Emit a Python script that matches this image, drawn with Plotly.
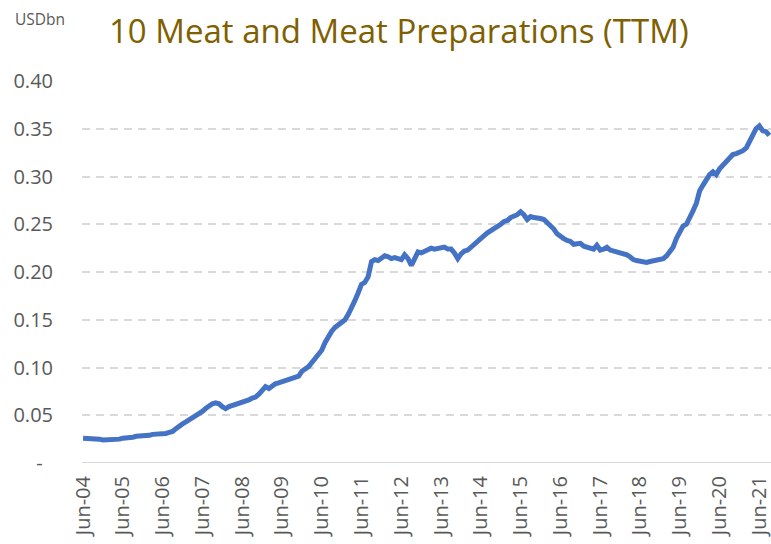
import pandas as pd
import plotly.graph_objects as go

# Monthly TTM values, USD bn, Jun-04 .. Sep-21
start_month = "2004-06-01"
values = [
    0.026, 0.026, 0.026, 0.025, 0.025, 0.025, 0.024, 0.024, 0.024, 0.024, 0.025, 0.025,
    0.026, 0.026, 0.027, 0.027, 0.028, 0.028, 0.028, 0.029, 0.029, 0.030, 0.030, 0.030,
    0.031, 0.031, 0.032, 0.033, 0.036, 0.039, 0.041, 0.043, 0.045, 0.047, 0.049, 0.051,
    0.054, 0.057, 0.060, 0.062, 0.063, 0.062, 0.059, 0.057, 0.059, 0.060, 0.062, 0.063,
    0.064, 0.065, 0.066, 0.068, 0.069, 0.072, 0.076, 0.080, 0.078, 0.081, 0.083, 0.084,
    0.085, 0.086, 0.087, 0.088, 0.089, 0.091, 0.096, 0.098, 0.101, 0.105, 0.109, 0.113,
    0.118, 0.126, 0.133, 0.138, 0.142, 0.145, 0.147, 0.150, 0.156, 0.162, 0.170, 0.178,
    0.187, 0.189, 0.195, 0.211, 0.213, 0.212, 0.214, 0.217, 0.216, 0.214, 0.215, 0.214,
    0.213, 0.218, 0.214, 0.207, 0.214, 0.221, 0.220, 0.222, 0.224, 0.225, 0.224, 0.225,
    0.225, 0.226, 0.224, 0.224, 0.220, 0.214, 0.219, 0.222, 0.223, 0.226, 0.230, 0.232,
    0.235, 0.238, 0.241, 0.243, 0.245, 0.247, 0.250, 0.253, 0.254, 0.257, 0.258, 0.260,
    0.263, 0.260, 0.255, 0.258, 0.257, 0.257, 0.256, 0.255, 0.252, 0.249, 0.245, 0.240,
    0.237, 0.235, 0.233, 0.232, 0.229, 0.229, 0.230, 0.227, 0.226, 0.224, 0.224, 0.228,
    0.223, 0.224, 0.226, 0.223, 0.222, 0.222, 0.221, 0.220, 0.218, 0.216, 0.213, 0.212,
    0.211, 0.210, 0.210, 0.211, 0.212, 0.212, 0.213, 0.214, 0.217, 0.221, 0.226, 0.235,
    0.241, 0.248, 0.250, 0.256, 0.264, 0.272, 0.285, 0.291, 0.298, 0.302, 0.305, 0.302,
    0.308, 0.312, 0.315, 0.321, 0.323, 0.324, 0.325, 0.327, 0.330, 0.336, 0.343, 0.350,
    0.353, 0.348, 0.347, 0.343,
]
dates = pd.date_range(start_month, periods=len(values), freq="MS")

tick_years = list(range(2004, 2022))
tick_dates = [f"{y}-06-01" for y in tick_years]
tick_labels = [f"Jun-{y % 100:02d}" for y in tick_years]

y_tickvals = [0, 0.05, 0.10, 0.15, 0.20, 0.25, 0.30, 0.35, 0.40]
y_ticktext = ["-\u00a0\u00a0", "0.05", "0.10", "0.15", "0.20", "0.25", "0.30", "0.35", "0.40"]

title_text = "10 Meat and Meat Preparations (TTM)"
unit_text = "USDbn"

fig = go.Figure()
fig.add_trace(go.Scatter(
    x=dates, y=values, mode="lines",
    line=dict(color="#4472C4", width=5),
    hoverinfo="x+y", showlegend=False, cliponaxis=True,
))

FONT = "Open Sans"
fig.update_layout(
    width=771, height=544,
    margin=dict(l=82, r=0, t=81, b=81, autoexpand=False),
    paper_bgcolor="white", plot_bgcolor="white",
    font=dict(family=FONT, color="#595959"),
    xaxis=dict(
        range=["2004-05-22", "2021-09-16"], automargin=False,
        tickvals=tick_dates, ticktext=tick_labels,
        tickangle=-90, tickfont=dict(size=20, color="#595959"),
        showgrid=False, showline=False, zeroline=False,
        ticks="", ticklabelstandoff=8, ticklabeloverflow="allow",
    ),
    yaxis=dict(
        range=[0, 0.40], automargin=False,
        tickvals=y_tickvals, ticktext=y_ticktext,
        tickfont=dict(size=20, color="#595959"),
        showgrid=True, gridcolor="#D9D9D9", gridwidth=1.5, griddash="8px,6px",
        zeroline=False, showline=False, ticks="", ticklabelstandoff=28,
    ),
    shapes=[dict(type="line", xref="paper", yref="y", x0=0, x1=1, y0=0, y1=0,
                 line=dict(color="#D9D9D9", width=2), layer="below")],
    annotations=[
        dict(text=title_text, xref="paper", yref="paper", x=0.46, y=1.0, yshift=51,
             xanchor="center", yanchor="middle", showarrow=False,
             font=dict(family=FONT, size=33, color="#7F6000")),
        dict(text=unit_text, xref="paper", yref="paper", x=-0.1, y=1.0, yshift=62,
             xanchor="left", yanchor="middle", showarrow=False,
             font=dict(family=FONT, size=15.5, color="#595959")),
    ],
)

fig.write_html("out.html", config={"displayModeBar": False},
               post_script="document.body.style.margin='0';document.body.style.padding='0';")
